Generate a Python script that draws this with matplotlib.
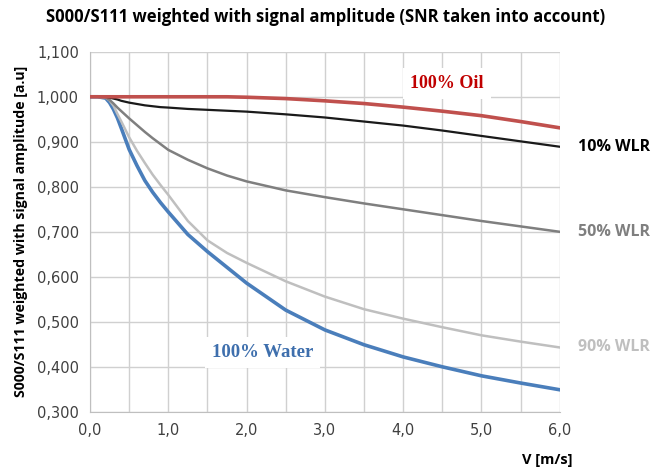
import numpy as np
import matplotlib
matplotlib.use("Agg")
import matplotlib.pyplot as plt
from matplotlib.ticker import FuncFormatter, MultipleLocator

# velocity [m/s]
v = [0, 0.1, 0.2, 0.25, 0.3, 0.35, 0.4, 0.5, 0.6, 0.7, 0.8, 0.9, 1.0, 1.25, 1.5, 1.75,
     2.0, 2.5, 3.0, 3.5, 4.0, 4.5, 5.0, 5.5, 6.0]

oil = [1.0, 1.0, 1.0, 1.0, 1.0, 1.0, 1.0, 1.0, 1.0, 1.0, 1.0, 1.0, 1.0, 1.0, 1.0, 1.0,
       0.999, 0.996, 0.991, 0.985, 0.977, 0.968, 0.958, 0.945, 0.931]
wlr10 = [1.0, 1.0, 1.0, 0.998, 0.996, 0.994, 0.991, 0.987, 0.984, 0.981, 0.979, 0.977, 0.976,
         0.973, 0.971, 0.969, 0.967, 0.961, 0.954, 0.945, 0.936, 0.925, 0.913, 0.901, 0.889]
wlr50 = [1.0, 1.0, 0.998, 0.993, 0.985, 0.976, 0.968, 0.952, 0.937, 0.922, 0.908, 0.895, 0.882,
         0.86, 0.841, 0.825, 0.812, 0.792, 0.777, 0.763, 0.75, 0.737, 0.724, 0.712, 0.700]
wlr90 = [1.0, 1.0, 0.998, 0.992, 0.98, 0.962, 0.945, 0.91, 0.88, 0.853, 0.827, 0.804, 0.782,
         0.724, 0.681, 0.653, 0.631, 0.59, 0.556, 0.528, 0.507, 0.488, 0.47, 0.456, 0.443]
water = [1.0, 1.0, 0.997, 0.987, 0.972, 0.953, 0.93, 0.883, 0.847, 0.814, 0.788, 0.765, 0.744,
         0.694, 0.656, 0.621, 0.586, 0.526, 0.482, 0.449, 0.422, 0.40, 0.38, 0.364, 0.349]

fig = plt.figure(figsize=(6.57, 4.75), dpi=100)
ax = fig.add_axes([0.137, 0.133, 0.715, 0.758])

ax.plot(v, water, color="#4a7ebb", lw=2.6, zorder=3)
ax.plot(v, wlr90, color="#bfbfbf", lw=1.8, zorder=3)
ax.plot(v, wlr50, color="#7f7f7f", lw=1.8, zorder=3)
ax.plot(v, wlr10, color="#1a1a1a", lw=1.6, zorder=3)
ax.plot(v, oil, color="#c0504d", lw=2.6, zorder=4)

ax.set_xlim(0, 6)
ax.set_ylim(0.3, 1.1)
ax.xaxis.set_major_locator(MultipleLocator(1))
ax.xaxis.set_minor_locator(MultipleLocator(0.5))
ax.yaxis.set_major_locator(MultipleLocator(0.1))
ax.xaxis.set_major_formatter(FuncFormatter(lambda x, p: f"{x:.1f}".replace(".", ",")))
ax.yaxis.set_major_formatter(FuncFormatter(lambda y, p: f"{y:,.3f}".replace(".", ",")))
ax.grid(True, which="both", color="#d0d0d0", lw=1.0, zorder=0)
ax.tick_params(which="both", length=0, labelsize=10.5, labelcolor="#404040", pad=8)
for s in ["top", "right"]:
    ax.spines[s].set_visible(False)
for s in ["left", "bottom"]:
    ax.spines[s].set_color("#bfbfbf")

ax.set_ylabel("S000/S111 weighted with signal amplitude [a.u]", fontsize=10.2,
              fontweight="bold", family="Open Sans", labelpad=6)
fig.text(0.495, 0.965, "S000/S111 weighted with signal amplitude (SNR taken into account)",
         ha="center", va="center", fontsize=12, fontweight="bold", family="Open Sans")
fig.text(0.872, 0.031, "V [m/s]", ha="right", va="center", fontsize=10.5,
         fontweight="bold", family="Open Sans")

bbox = dict(facecolor="white", edgecolor="none", pad=5)
ax.text(4.56, 1.03, "100% Oil", color="#c00000", fontsize=13, fontweight="bold",
        family="Liberation Serif", ha="center", va="center", bbox=bbox, zorder=5)
ax.text(2.2, 0.432, "100% Water", color="#3e6fad", fontsize=13.5, fontweight="bold",
        family="Liberation Serif", ha="center", va="center", bbox=bbox, zorder=5)

for val, txt, col in [(0.889, "10% WLR", "#000000"), (0.700, "50% WLR", "#7f7f7f"),
                      (0.443, "90% WLR", "#bfbfbf")]:
    ax.annotate(txt, xy=(6.0, val), xytext=(13, 0), textcoords="offset points",
                color=col, fontsize=11.5, fontweight="bold", family="Open Sans",
                ha="left", va="center", annotation_clip=False)

fig.savefig("out.png", dpi=100)
